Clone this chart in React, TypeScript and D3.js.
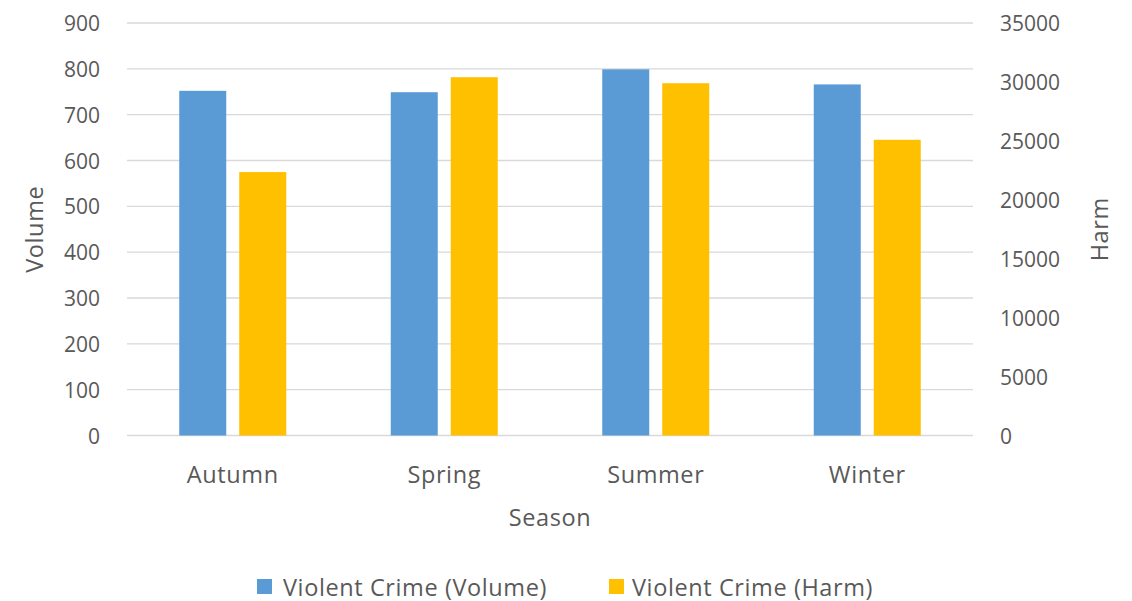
import React from "react";
import * as d3 from "d3";

const seasons = ["Autumn", "Spring", "Summer", "Winter"];
const volumeValues = [752, 749, 799, 766];
const harmValues = [22350, 30400, 29890, 25090];
const volumeTicks = [0, 100, 200, 300, 400, 500, 600, 700, 800, 900];
const harmTicks = [0, 5000, 10000, 15000, 20000, 25000, 30000, 35000];
const seriesNames = ["Violent Crime (Volume)", "Violent Crime (Harm)"];
const colors = ["#5B9BD5", "#FFC000"];

const W = 1132;
const H = 601;
const left = 127;
const right = 973;
const top = 23;
const bottom = 435.5;
const font = "'Open Sans', sans-serif";
const textColor = "#595959";
const fs = 21;
const wfs = 23.5;
const ls = 0.6;

export default function App() {
  const x = d3.scaleBand<string>().domain(seasons).range([left, right]).paddingInner(0).paddingOuter(0);
  const yL = d3.scaleLinear().domain([0, 900]).range([bottom, top]);
  const yR = d3.scaleLinear().domain([0, 35000]).range([bottom, top]);
  const barW = 47;
  const gap = 13;

  return (
    <svg width={W} height={H} style={{ position: "absolute", left: 0, top: 0, background: "#fff" }} fontFamily={font}>
      {volumeTicks.map((t) => (
        <g key={"l" + t}>
          <line x1={left} x2={right} y1={yL(t)} y2={yL(t)} stroke="#D9D9D9" strokeWidth={1.3} />
          <text x={100} y={yL(t)} textAnchor="end" dominantBaseline="central" fontSize={fs} fill={textColor}>
            {t}
          </text>
        </g>
      ))}
      {harmTicks.map((t) => (
        <text key={"r" + t} x={1000} y={yR(t)} textAnchor="start" dominantBaseline="central" fontSize={fs} fill={textColor}>
          {t}
        </text>
      ))}
      {seasons.map((s, i) => {
        const c = (x(s) as number) + x.bandwidth() / 2;
        return (
          <g key={s}>
            <rect x={c - gap / 2 - barW} y={yL(volumeValues[i])} width={barW} height={bottom - yL(volumeValues[i])} fill={colors[0]} />
            <rect x={c + gap / 2} y={yR(harmValues[i])} width={barW} height={bottom - yR(harmValues[i])} fill={colors[1]} />
            <text x={c} y={474} textAnchor="middle" dominantBaseline="central" fontSize={wfs} letterSpacing={ls} fill={textColor}>
              {s}
            </text>
          </g>
        );
      })}
      <text x={(left + right) / 2} y={517} textAnchor="middle" dominantBaseline="central" fontSize={wfs} letterSpacing={ls} fill={textColor}>
        Season
      </text>
      <text transform={`translate(34,${(top + bottom) / 2}) rotate(-90)`} textAnchor="middle" dominantBaseline="central" fontSize={wfs} letterSpacing={ls} fill={textColor}>
        Volume
      </text>
      <text transform={`translate(1099,${(top + bottom) / 2}) rotate(-90)`} textAnchor="middle" dominantBaseline="central" fontSize={wfs} letterSpacing={ls} fill={textColor}>
        Harm
      </text>
      <rect x={257} y={579} width={15} height={15} fill={colors[0]} />
      <text x={283} y={586.5} dominantBaseline="central" fontSize={wfs} letterSpacing={ls} fill={textColor}>
        {seriesNames[0]}
      </text>
      <rect x={609} y={579} width={15} height={15} fill={colors[1]} />
      <text x={632} y={586.5} dominantBaseline="central" fontSize={wfs} letterSpacing={ls} fill={textColor}>
        {seriesNames[1]}
      </text>
    </svg>
  );
}
